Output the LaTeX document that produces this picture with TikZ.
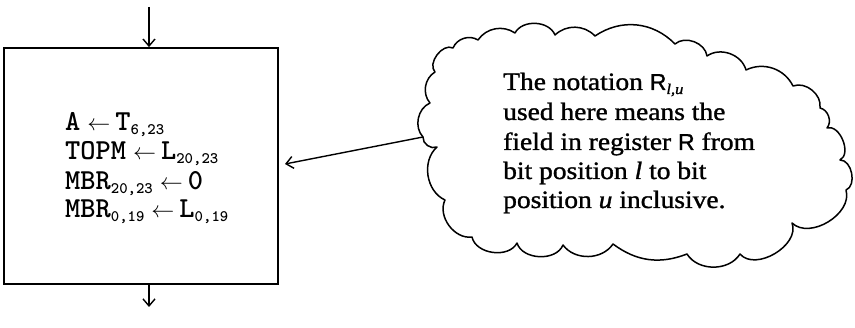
\documentclass[tikz,border=0pt]{standalone}
\usepackage{fontspec}
\usepackage{graphicx}
\usetikzlibrary{arrows.meta}
\newfontfamily\cloudrm{Liberation Serif}[FakeStretch=1.1,FakeBold=1.2]
\newfontfamily\cloudsf{Liberation Sans}[FakeBold=1.2]
\newcommand\bxsub[1]{\raisebox{-4pt}{\fontsize{16}{16}\selectfont #1}}
\newcommand\bxarr{\hspace{7pt}\resizebox{23pt}{!}{$\leftarrow$}\hspace{5pt}}
\newcommand\clsub[1]{\raisebox{-4pt}{\fontsize{15}{15}\selectfont #1}}
\newcommand\sfR{{\cloudsf\fontsize{23}{23}\selectfont R}}
\tikzset{
  boxline/.style={anchor=base west, inner sep=0pt, font=\ttfamily\bfseries\fontsize{29}{29}\selectfont},
  cloudtxt/.style={anchor=base west, inner sep=0pt, font=\cloudrm\fontsize{25}{25}\selectfont},
  flow/.style={line width=1.4pt, -{Straight Barb[length=7pt,width=12pt]}},
  cloudline/.style={line width=1.5pt, line join=round},
}
\begin{document}
\begin{tikzpicture}[x=1pt,y=1pt]
\path[use as bounding box] (0,0) rectangle (855,327);
% process box
\node[draw, line width=1.8pt, minimum width=274pt, minimum height=236pt, inner sep=0pt] (box) at (141,161) {};
\coordinate (tin) at (149,320);
\coordinate (tout) at (149,20);
\draw[flow] (tin) -- (tin |- box.north);
\draw[flow] (tin |- box.south) -- (tout);
\node[boxline] (b1) at (65,196) {A\bxarr T\bxsub{6,23}};
\node[boxline] (b2) at (65,167) {TOPM\bxarr L\bxsub{20,23}};
\node[boxline] (b3) at (65,137) {MBR\bxsub{20,23}\bxarr 0};
\node[boxline] (b4) at (65,109) {MBR\bxsub{0,19}\bxarr L\bxsub{0,19}};
% cloud
\coordinate (p0) at (423,190);
\coordinate (p1) at (430,224);
\coordinate (p2) at (435,255);
\coordinate (p3) at (453,279);
\coordinate (p4) at (478,287);
\coordinate (p5) at (515,294);
\coordinate (p6) at (555,292);
\coordinate (p7) at (595,291);
\coordinate (p8) at (675,283);
\coordinate (p9) at (707,271);
\coordinate (p10) at (746,257);
\coordinate (p11) at (793,241);
\coordinate (p12) at (820,219);
\coordinate (p13) at (827,199);
\coordinate (p14) at (840,167);
\coordinate (p15) at (846,137);
\coordinate (p16) at (792,104);
\coordinate (p17) at (740,73);
\coordinate (p18) at (687,73);
\coordinate (p19) at (613,83);
\coordinate (p20) at (563,82);
\coordinate (p21) at (517,84);
\coordinate (p22) at (472,90);
\coordinate (p23) at (445,127);
\coordinate (p24) at (437,180);
\draw[cloudline] (p0) to[bend left=55] (p1) to[bend left=50] (p2) to[bend left=80] (p3)
  to[bend left=50] (p4) to[bend left=45] (p5) to[bend left=65] (p6) to[bend left=45] (p7)
  to[bend left=40] (p8) to[bend left=62] (p9) to[bend left=55] (p10) to[bend left=45] (p11)
  to[bend left=60] (p12) to[bend left=60] (p13) to[bend left=85] (p14) to[bend left=80] (p15)
  to[bend left=75] (p16) to[bend left=80] (p17) to[bend left=58] (p18) to[bend left=29] (p19)
  to[bend left=55] (p20) to[bend left=70] (p21) to[bend left=70] (p22) to[bend left=62] (p23)
  to[bend left=57] (p24) to[bend left=60] (p0);
\node[cloudtxt] (c1) at (503,237) {The notation \sfR\clsub{\textit{l,u}}};
\node[cloudtxt] (c2) at (503,207) {used here means the};
\node[cloudtxt] (c3) at (503,177) {field in register \sfR\ from};
\node[cloudtxt] (c4) at (503,148) {bit position \textit{l} to bit};
\node[cloudtxt] (c5) at (503,119) {position \textit{u} inclusive.};
% pointer
\coordinate (tip) at (285,163);
\draw[flow] (p0) -- (tip);
\end{tikzpicture}
\end{document}
